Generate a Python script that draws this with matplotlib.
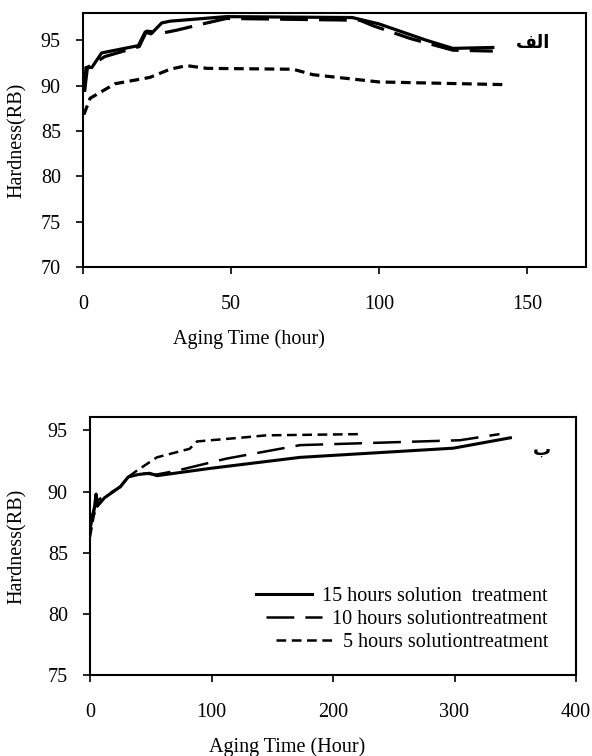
import matplotlib
matplotlib.use("Agg")
import matplotlib.pyplot as plt

# ---------------- data: top panel (الف) ----------------
top_t15 = [0.5, 1.0, 3.0, 6.3, 18.7, 21.0, 23.0, 26.6, 29.4, 48.5, 91.0, 100.0, 116.0, 125.0, 138.5]
top_h15 = [89.5, 92.0, 92.0, 93.6, 94.4, 95.9, 95.7, 96.9, 97.1, 97.6, 97.5, 96.8, 95.0, 94.1, 94.2]

top_t10 = [0.5, 1.5, 7.4, 19.0, 21.5, 27.0, 31.6, 41.8, 48.5, 93.6, 98.0, 110.5, 125.0, 138.5]
top_h10 = [89.3, 92.0, 93.2, 94.3, 96.0, 95.8, 96.1, 96.9, 97.4, 97.2, 96.6, 95.2, 93.9, 93.8]

top_t5 = [0.3, 2.4, 10.8, 22.6, 29.4, 35.0, 41.8, 71.0, 77.7, 100.0, 143.0]
top_h5 = [86.8, 88.6, 90.2, 90.9, 91.8, 92.2, 91.9, 91.8, 91.2, 90.4, 90.1]

# ---------------- data: bottom panel (ب) ----------------
bot_t15 = [0, 3, 5, 6, 12, 25, 31.5, 40, 49, 55, 99, 173, 299, 346]
bot_h15 = [87.0, 88.2, 89.8, 88.8, 89.5, 90.4, 91.2, 91.4, 91.5, 91.3, 91.9, 92.8, 93.55, 94.4]

bot_t10 = [0, 3, 6, 12, 25, 31.5, 40, 55, 71, 112.5, 173, 304.5, 337]
bot_h10 = [87.5, 88.5, 89.3, 89.6, 90.4, 91.2, 91.5, 91.4, 91.7, 92.7, 93.8, 94.2, 94.7]

bot_t5 = [0, 3, 6, 12, 25, 31.5, 38.4, 55, 82, 88, 129, 145, 222]
bot_h5 = [86.3, 88.0, 89.0, 89.5, 90.4, 91.2, 91.7, 92.8, 93.5, 94.1, 94.45, 94.6, 94.7]

labels = ["15 hours solution  treatment", "10 hours solutiontreatment", "5 hours solutiontreatment"]

top_xticks = [0, 50, 100, 150]
top_yticks = [70, 75, 80, 85, 90, 95]
bot_xticks = [0, 100, 200, 300, 400]
bot_yticks = [75, 80, 85, 90, 95]

plt.rcParams['font.family'] = ['Liberation Serif', 'DejaVu Serif']
plt.rcParams['lines.scale_dashes'] = False
FS = 14.5

fig = plt.figure(figsize=(5.92, 7.56), dpi=100)

ax1 = fig.add_axes([83/592, 1-267/756, 503/592, 254/756])
ax2 = fig.add_axes([90/592, 1-675/756, 486/592, 258/756])

long_dash = (20, 8)
short_dash = (7, 4)

ax1.plot(top_t15, top_h15, color='black', lw=2.3, solid_joinstyle='round')
ax1.plot(top_t10, top_h10, color='black', lw=2.3, dashes=long_dash)
ax1.plot(top_t5, top_h5, color='black', lw=2.3, dashes=short_dash)

ax2.plot(bot_t15, bot_h15, color='black', lw=2.2, label=labels[0])
ax2.plot(bot_t10, bot_h10, color='black', lw=1.8, dashes=long_dash, label=labels[1])
ax2.plot(bot_t5, bot_h5, color='black', lw=1.8, dashes=short_dash, label=labels[2])

ax1.set_xlim(0, 170)
ax1.set_ylim(70, 98)
ax1.set_xticks(top_xticks)
ax1.set_yticks(top_yticks)
ax2.set_xlim(0, 400)
ax2.set_ylim(75, 96.1)
ax2.set_xticks(bot_xticks)
ax2.set_yticks(bot_yticks)

for ax in (ax1, ax2):
    for s in ax.spines.values():
        s.set_linewidth(1.5)
    ax.tick_params(direction='out', length=5, width=1.2, labelsize=FS)
    ax.tick_params(axis='y', pad=11)
    ax.tick_params(axis='x', pad=15)

ax1.set_ylabel("Hardness(RB)", fontsize=FS)
ax1.yaxis.set_label_coords((27-83)/503, 0.5)
ax1.set_xlabel("Aging Time (hour)", fontsize=FS)
ax1.xaxis.set_label_coords((249-83)/503, (267-329)/254)

ax2.set_ylabel("Hardness(RB)", fontsize=FS)
ax2.yaxis.set_label_coords((27-90)/486, 0.5)
ax2.set_xlabel("Aging Time (Hour)", fontsize=FS)
ax2.xaxis.set_label_coords((287-90)/486, (675-737)/258)

ax1.text((533-83)/503, (267-43)/254, "\uFED2\uFEDF\u0627", transform=ax1.transAxes,
         ha='center', va='center', fontsize=13, fontweight='bold', family=['DejaVu Sans'])
ax2.text((542-90)/486, (675-450)/258, "\u0628", transform=ax2.transAxes,
         ha='center', va='center', fontsize=13, fontweight='bold', family=['DejaVu Sans'])

leg = ax2.legend(loc='lower right', bbox_to_anchor=((548-90)/486, (675-652)/258),
                 frameon=False, fontsize=FS, handlelength=2.8, handletextpad=0.5,
                 labelspacing=0.2, borderpad=0, borderaxespad=0)
try:
    for col in leg._legend_handle_box.get_children():
        col.align = 'right'
except Exception:
    pass

fig.savefig("out.png", dpi=100)
